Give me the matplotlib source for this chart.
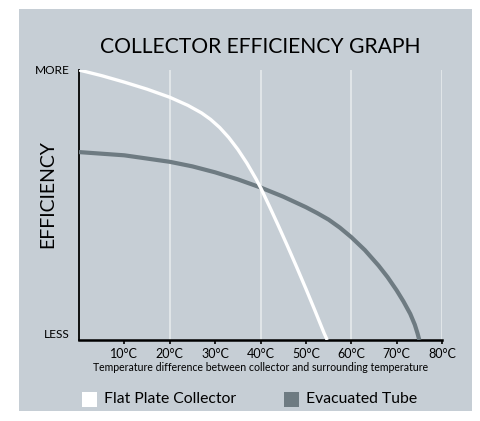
import matplotlib
matplotlib.use("Agg")
import matplotlib.pyplot as plt
from matplotlib.patches import Rectangle

# temperature difference (deg C) vs relative efficiency (0 = less, 100 = more)
flat_temp = [0, 5, 10, 15, 20, 24, 27, 29, 31, 33, 35, 37, 39, 40, 42, 44, 46, 48, 50, 52, 54, 54.7]
flat_eff = [100, 97.9, 95.5, 92.9, 89.9, 86.9, 84.1, 81.7, 78.7, 75, 70.6, 65.5, 59.7, 56.5,
            49.4, 42.1, 34.6, 26.9, 19, 10.9, 2.6, 0]

tube_temp = [0, 10, 20, 25, 30, 35, 40, 45, 50, 52.5, 55, 57.5, 60, 63, 66, 68, 70, 71.5, 73,
             74, 74.6, 75]
tube_eff = [69.6, 68.4, 66, 64.3, 62.1, 59.5, 56.5, 53.1, 49.2, 47.0, 44.6, 41.6, 38.1, 33.3,
            27.6, 23.3, 18.4, 14.3, 9.7, 5.7, 2.5, 0]

tick_vals = [10, 20, 30, 40, 50, 60, 70, 80]
tick_labels = ["10°C", "20°C", "30°C", "40°C", "50°C", "60°C", "70°C", "80°C"]
grid_vals = [20, 40, 60, 80]

bg = "#c6ced5"
tube_col = "#6e7b82"
plt.rcParams['font.family'] = ['Lato', 'DejaVu Sans']

fig = plt.figure(figsize=(4.8, 4.21), dpi=100)
fig.patch.set_facecolor("white")
fig.patches.append(Rectangle((19 / 480, 1 - 411 / 421), 453 / 480, 402 / 421,
                             transform=fig.transFigure, facecolor=bg, edgecolor="none", zorder=-10))

ax = fig.add_axes([79 / 480, 1 - 340 / 421, 363 / 480, 270 / 421])
ax.set_facecolor("none")
ax.set_xlim(0, 80)
ax.set_ylim(0, 100)

for g in grid_vals:
    ax.axvline(g, color="#e6eaed", lw=1.2, zorder=1)

ax.plot(tube_temp, tube_eff, color=tube_col, lw=3, solid_capstyle="butt",
        solid_joinstyle="round", zorder=3)
ax.plot(flat_temp, flat_eff, color="white", lw=2.4, solid_capstyle="butt",
        solid_joinstyle="round", zorder=4)

for s in ["top", "right"]:
    ax.spines[s].set_visible(False)
ax.spines["left"].set_linewidth(1.3)
ax.spines["bottom"].set_linewidth(1.8)
ax.set_yticks([])
ax.set_xticks(tick_vals)
ax.set_xticklabels(tick_labels, fontsize=9)
ax.tick_params(axis="x", direction="out", length=3, width=1.2, pad=3)
ax.set_xlabel("Temperature difference between collector and surrounding temperature",
              fontsize=7.6, labelpad=1)

fig.text(260 / 480, 1 - 47 / 421, "COLLECTOR EFFICIENCY GRAPH", fontsize=15.2,
         ha="center", va="center")
fig.text(70 / 480, 1 - 71 / 421, "MORE", fontsize=8.6, ha="right", va="center")
fig.text(70 / 480, 1 - 334 / 421, "LESS", fontsize=8.6, ha="right", va="center")
fig.text(48 / 480, 1 - 194 / 421, "EFFICIENCY", fontsize=14, rotation=90,
         ha="center", va="center")

# legend
fig.patches.append(Rectangle((82 / 480, 1 - 407 / 421), 15 / 480, 15 / 421,
                             transform=fig.transFigure, facecolor="white", edgecolor="none"))
fig.text(104 / 480, 1 - 399 / 421, "Flat Plate Collector", fontsize=11.3, ha="left", va="center")
fig.patches.append(Rectangle((284 / 480, 1 - 407 / 421), 15 / 480, 15 / 421,
                             transform=fig.transFigure, facecolor=tube_col, edgecolor="none"))
fig.text(306 / 480, 1 - 399 / 421, "Evacuated Tube", fontsize=11.3, ha="left", va="center")

fig.savefig("out.png", dpi=100)
